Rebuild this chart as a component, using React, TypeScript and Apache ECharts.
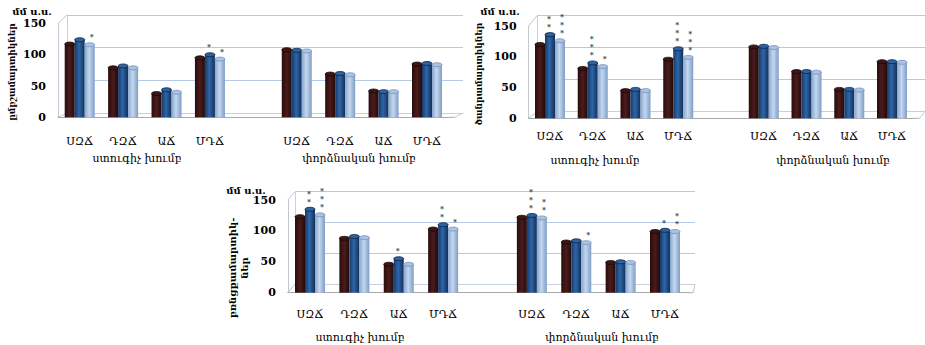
import React, { useEffect, useRef } from 'react';
import * as echarts from 'echarts';

// ---------- data ----------
const categories = ['ՍԶՃ', 'ԴԶՃ', 'ԱՃ', 'ՄԴՃ', 'ՍԶՃ', 'ԴԶՃ', 'ԱՃ', 'ՄԴՃ'];
const groupLabels = ['ստուգիչ խումբ', 'փորձնական խումբ'];
const unitLabel = 'մմ ս.ս.';
const yMin = 0;
const yMax = 150;
const yInterval = 50;

const yTitles = ['ըմբշամարտիկներ', 'ծանրամարտիկներ', 'բռնցքամարտիկ-\nներ'];

// chart 1
const c1Maroon = [117, 79, 38, 95, 108, 69, 42, 85];
const c1Blue = [124, 82, 44, 100, 107, 70, 41, 86];
const c1Light = [116, 79, 40, 93, 106, 68, 41, 84];
const c1StarsBlue = ['', '', '', '*', '', '', '', ''];
const c1StarsLight = ['*', '', '', '*', '', '', '', ''];

// chart 2
const c2Maroon = [120, 81, 45, 96, 116, 76, 47, 92];
const c2Blue = [136, 90, 47, 113, 117, 76, 47, 92];
const c2Light = [126, 84, 45, 99, 115, 75, 46, 91];
const c2StarsBlue = ['**', '***', '', '***', '', '', '', ''];
const c2StarsLight = ['***', '*', '', '***', '', '', '', ''];

// chart 3
const c3Maroon = [123, 88, 46, 103, 122, 82, 49, 99];
const c3Blue = [135, 91, 55, 110, 125, 84, 50, 101];
const c3Light = [126, 89, 46, 103, 121, 81, 49, 99];
const c3StarsBlue = ['**', '', '*', '**', '***', '', '', '*'];
const c3StarsLight = ['***', '', '', '*', '**', '*', '', '**'];

const noStars = ['', '', '', '', '', '', '', ''];

const charts = [
  { values: [c1Maroon, c1Blue, c1Light], stars: [noStars, c1StarsBlue, c1StarsLight] },
  { values: [c2Maroon, c2Blue, c2Light], stars: [noStars, c2StarsBlue, c2StarsLight] },
  { values: [c3Maroon, c3Blue, c3Light], stars: [noStars, c3StarsBlue, c3StarsLight] },
];

// ---------- layout / style ----------
const layouts = [
  {
    front: { left: 58, top: 23.4, right: 448.7, bottom: 117.3 },
    back: { left: 67, top: 15, right: 463, bottom: 113 },
    labelMargin: 19, groupY: 158, groupX: [137, 359],
    unit: { x: 32, y: 11 }, ytitle: { x: 12, y: 72 }, titleSize: 9,
  },
  {
    front: { left: 528.6, top: 26, right: 913.4, bottom: 118.3 },
    back: { left: 537, top: 15.7, right: 925, bottom: 111.7 },
    labelMargin: 13, groupY: 160, groupX: [595, 833],
    unit: { x: 500, y: 11 }, ytitle: { x: 479, y: 74 }, titleSize: 9,
  },
  {
    front: { left: 287.8, top: 200, right: 687.2, bottom: 292.7 },
    back: { left: 295, top: 191.7, right: 695, bottom: 284.3 },
    labelMargin: 16, groupY: 337, groupX: [360, 602],
    unit: { x: 246, y: 190 }, ytitle: { x: 238, y: 268 }, titleSize: 10,
  },
];

const FONT = "'DejaVu Serif', 'DejaVu Sans', serif";

const barFills = [
  () => new echarts.graphic.LinearGradient(0, 0, 1, 0, [
    { offset: 0, color: '#2a0c0c' }, { offset: 0.5, color: '#4a1c1c' }, { offset: 1, color: '#240a0a' },
  ]),
  () => new echarts.graphic.LinearGradient(0, 0, 1, 0, [
    { offset: 0, color: '#163a6a' }, { offset: 0.45, color: '#2e66a8' }, { offset: 1, color: '#132f57' },
  ]),
  () => new echarts.graphic.LinearGradient(0, 0, 1, 0, [
    { offset: 0, color: '#86a6cf' }, { offset: 0.45, color: '#c4d7ee' }, { offset: 1, color: '#7f9dc6' },
  ]),
];
const capFill = ['#3d1616', '#2d62a3', '#a9c3e4'];
const capStroke = ['#1a0606', '#0c2344', '#7893bb'];
const starOffsets = [0, -1, 2];

const withGap = <T,>(arr: T[], gap: T): T[] => [...arr.slice(0, 4), gap, ...arr.slice(4)];

export default function App() {
  const ref = useRef<HTMLDivElement>(null);

  useEffect(() => {
    if (!ref.current) return;
    const chart = echarts.init(ref.current, undefined, { renderer: 'svg' });
    const cats = withGap(categories, '');

    const grid: any[] = [];
    const xAxis: any[] = [];
    const yAxis: any[] = [];
    const series: any[] = [];
    const graphic: any[] = [];

    layouts.forEach((L, ci) => {
      const b = L.back;
      const f = L.front;
      grid.push({ left: b.left, top: b.top, width: b.right - b.left, height: b.bottom - b.top, outerBoundsMode: 'none' });
      grid.push({ left: f.left, top: f.top, width: f.right - f.left, height: f.bottom - f.top, outerBoundsMode: 'none' });
      const gb = ci * 2;
      const gf = ci * 2 + 1;
      xAxis.push({
        type: 'category', gridIndex: gb, data: cats,
        axisLine: { show: true, lineStyle: { color: '#c6d0dc' } },
        axisTick: { show: false }, axisLabel: { show: false },
      });
      yAxis.push({
        type: 'value', gridIndex: gb, min: yMin, max: yMax, interval: yInterval,
        axisLine: { show: true, lineStyle: { color: '#c6d3e3' } },
        axisTick: { show: false }, axisLabel: { show: false },
        splitLine: { show: true, lineStyle: { color: '#b4cbe8', width: 1.2 } },
      });
      xAxis.push({
        type: 'category', gridIndex: gf, data: cats,
        axisLine: { show: true, lineStyle: { color: '#a8a8a8' } },
        axisTick: { show: false },
        axisLabel: { show: true, interval: 0, margin: L.labelMargin, color: '#000', fontSize: 11, fontFamily: FONT },
      });
      yAxis.push({
        type: 'value', gridIndex: gf, min: yMin, max: yMax, interval: yInterval,
        axisLine: { show: true, lineStyle: { color: '#c0c8d2' } },
        axisTick: { show: false },
        splitLine: { show: false },
        axisLabel: { show: true, margin: 12, color: '#000', fontSize: 11, fontWeight: 'bold', fontFamily: FONT },
      });

      const C = charts[ci];
      const capData: any[] = [];
      C.values.forEach((vals, si) => {
        const full = withGap<number | null>(vals, null);
        const stars = withGap(C.stars[si], '');
        series.push({
          type: 'bar', xAxisIndex: gf, yAxisIndex: gf,
          barWidth: 10, barGap: '0%',
          itemStyle: { color: barFills[si]() },
          data: full.map((v, k) => {
            if (v === null) return '-';
            const st = stars[k];
            return {
              value: v,
              label: st
                ? {
                    show: true, position: 'top', distance: 3,
                    formatter: st.split('').join('\n'),
                    fontSize: 8, lineHeight: 8, color: '#000', fontFamily: FONT,
                    offset: [starOffsets[si], 0],
                  }
                : { show: false },
            };
          }),
        });
        full.forEach((v, k) => {
          if (v !== null) capData.push([k, v, si]);
        });
      });
      series.push({
        type: 'custom', xAxisIndex: gf, yAxisIndex: gf, z: 5,
        data: capData,
        renderItem: (params: any, api: any) => {
          const p = api.coord([api.value(0), api.value(1)]);
          const s = api.value(2);
          return {
            type: 'ellipse',
            shape: { cx: p[0] + (s - 1) * 10, cy: p[1], rx: 5, ry: 2 },
            style: { fill: capFill[s], stroke: capStroke[s], lineWidth: 0.8 },
          };
        },
      });

      const edge = { stroke: '#bcc8d6', lineWidth: 1 };
      graphic.push({ type: 'line', shape: { x1: f.left, y1: f.top, x2: b.left, y2: b.top }, style: edge, silent: true });
      graphic.push({ type: 'line', shape: { x1: f.left, y1: f.bottom, x2: b.left, y2: b.bottom }, style: edge, silent: true });
      graphic.push({ type: 'line', shape: { x1: f.right, y1: f.bottom, x2: f.right + 6, y2: f.bottom }, style: { stroke: '#a8a8a8', lineWidth: 1 }, silent: true });
      graphic.push({ type: 'line', shape: { x1: f.right + 6, y1: f.bottom, x2: b.right, y2: b.bottom }, style: edge, silent: true });

      graphic.push({
        type: 'text', x: L.unit.x, y: L.unit.y,
        style: { text: unitLabel, font: `bold 10px ${FONT}`, fill: '#000', textAlign: 'center', textVerticalAlign: 'middle' },
      });
      graphic.push({
        type: 'text', x: L.ytitle.x, y: L.ytitle.y, rotation: Math.PI / 2,
        style: { text: yTitles[ci], font: `bold ${L.titleSize}px ${FONT}`, fill: '#000', textAlign: 'center', textVerticalAlign: 'middle', lineHeight: 12 },
      });
      groupLabels.forEach((g, gi) => {
        graphic.push({
          type: 'text', x: L.groupX[gi], y: L.groupY,
          style: { text: g, font: `11px ${FONT}`, fill: '#000', textAlign: 'center', textVerticalAlign: 'middle' },
        });
      });
    });

    chart.setOption({
      animation: false,
      backgroundColor: '#ffffff',
      grid, xAxis, yAxis, series, graphic,
    });
    return () => chart.dispose();
  }, []);

  return <div ref={ref} style={{ position: 'absolute', left: 0, top: 0, width: 925, height: 345 }} />;
}
